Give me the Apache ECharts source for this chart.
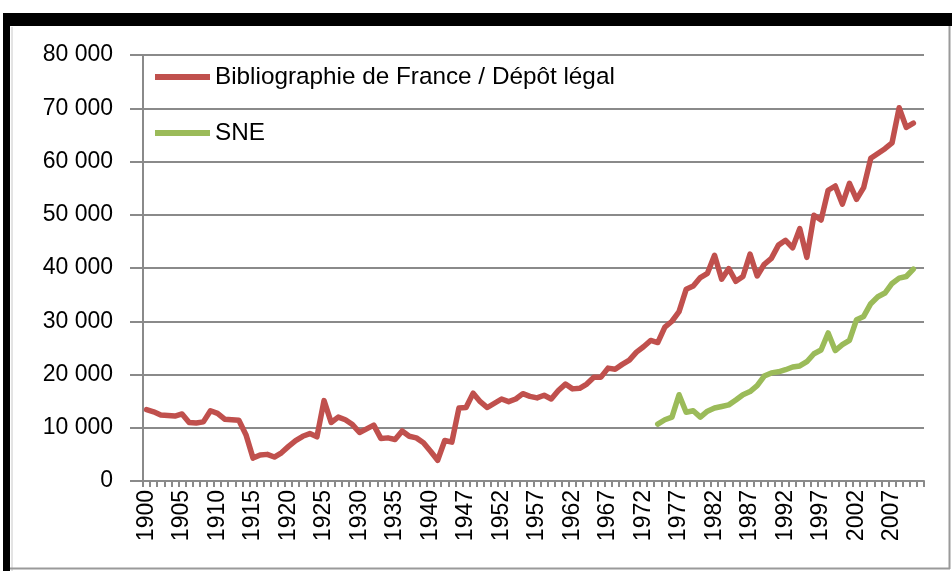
<!DOCTYPE html>
<html>
<head>
<meta charset="utf-8">
<script src="https://cdn.jsdelivr.net/npm/echarts@6/dist/echarts.min.js"></script>
<style>
html,body{margin:0;padding:0;background:#fff;}
#chart{width:952px;height:571px;}
</style>
</head>
<body>
<div id="chart"></div>
<script>
// Categories (years; 1944-1945 absent from the series)
const years = [
 '1900','1901','1902','1903','1904','1905','1906','1907','1908','1909',
 '1910','1911','1912','1913','1914','1915','1916','1917','1918','1919',
 '1920','1921','1922','1923','1924','1925','1926','1927','1928','1929',
 '1930','1931','1932','1933','1934','1935','1936','1937','1938','1939',
 '1940','1941','1942','1943','1946','1947','1948','1949','1950','1951',
 '1952','1953','1954','1955','1956','1957','1958','1959','1960','1961',
 '1962','1963','1964','1965','1966','1967','1968','1969','1970','1971',
 '1972','1973','1974','1975','1976','1977','1978','1979','1980','1981',
 '1982','1983','1984','1985','1986','1987','1988','1989','1990','1991',
 '1992','1993','1994','1995','1996','1997','1998','1999','2000','2001',
 '2002','2003','2004','2005','2006','2007','2008','2009','2010','2011'
];

// Bibliographie de France / Dépôt légal (1900 -> 2010)
const bibliographie = [
 13400,13000,12400,12300,12200,12600,11000,10900,11100,13200,
 12700,11600,11500,11400,8700,4300,4900,5000,4500,5300,
 6500,7600,8400,8900,8300,15100,11000,12000,11500,10600,
 9100,9800,10500,8000,8100,7800,9400,8400,8100,7200,
 5600,3900,7600,7300,13700,13800,16500,14900,13800,14600,
 15400,14900,15400,16400,15900,15600,16100,15400,17000,18200,
 17300,17400,18200,19500,19500,21200,21000,21900,22700,24200,
 25200,26400,26000,28900,30000,31800,36000,36600,38200,39000,
 42400,37900,39900,37500,38400,42600,38500,40700,41800,44300,
 45200,43800,47400,42000,49900,49000,54600,55400,52000,55900,
 52900,55100,60600,61500,62400,63500,70100,66400,67200
];

// SNE (1974 -> 2010)
const sneStart = '1974';
const sne = [
 10700,11500,12000,16200,12900,13200,12000,13100,13700,14000,
 14300,15200,16200,16800,17900,19700,20300,20500,20900,21400,
 21600,22400,23900,24600,27800,24500,25600,26400,30300,30900,
 33300,34600,35300,37100,38100,38400,39800
];

const seriesNames = ['Bibliographie de France / Dépôt légal', 'SNE'];
const yTicks = [0, 10000, 20000, 30000, 40000, 50000, 60000, 70000, 80000];

const sneFull = years.map(() => null);
const startIdx = years.indexOf(sneStart);
sne.forEach((v, i) => { sneFull[startIdx + i] = v; });

const fmt = v => String(v).replace(/\B(?=(\d{3})+(?!\d))/g, ' ');
const gridGray = '#8a8a8a';

const chart = echarts.init(document.getElementById('chart'), null, {renderer: 'canvas'});
chart.setOption({
  animation: false,
  backgroundColor: '#fff',
  graphic: [
    {type: 'rect', shape: {x: 3, y: 13, width: 949, height: 13}, style: {fill: '#000'}, silent: true},
    {type: 'rect', shape: {x: 3, y: 13, width: 7, height: 558}, style: {fill: '#000'}, silent: true},
    {type: 'line', shape: {x1: 12, y1: 27, x2: 12, y2: 571}, style: {stroke: '#c8c8c8', lineWidth: 1}, silent: true},
    {type: 'line', shape: {x1: 949.5, y1: 26, x2: 949.5, y2: 569}, style: {stroke: '#9a9a9a', lineWidth: 2}, silent: true},
    {type: 'line', shape: {x1: 10, y1: 568.5, x2: 950, y2: 568.5}, style: {stroke: '#9a9a9a', lineWidth: 2}, silent: true}
  ],
  grid: {left: 143, top: 55, width: 781, height: 426, containLabel: false},
  legend: {
    orient: 'vertical',
    left: 155,
    top: 64,
    padding: 0,
    itemGap: 30,
    itemWidth: 55,
    itemHeight: 6,
    icon: 'rect',
    data: seriesNames,
    textStyle: {fontSize: 24.3, fontFamily: 'Liberation Sans, Arial, sans-serif', color: '#000', lineHeight: 26}
  },
  xAxis: {
    type: 'category',
    data: years,
    boundaryGap: true,
    axisLine: {show: true, lineStyle: {color: gridGray, width: 2}},
    axisTick: {show: true, interval: 0, length: 6, lineStyle: {color: gridGray, width: 2}},
    axisLabel: {
      interval: 4, rotate: 90, margin: 9,
      fontSize: 23, fontFamily: 'Liberation Sans, Arial, sans-serif', color: '#000'
    },
    splitLine: {show: false}
  },
  yAxis: {
    type: 'value',
    min: yTicks[0],
    max: yTicks[yTicks.length - 1],
    interval: yTicks[1] - yTicks[0],
    axisLine: {show: true, lineStyle: {color: gridGray, width: 2}},
    axisTick: {show: true, length: 13, lineStyle: {color: gridGray, width: 2}},
    axisLabel: {
      margin: 30, formatter: fmt,
      fontSize: 23, fontFamily: 'Liberation Sans, Arial, sans-serif', color: '#000'
    },
    splitLine: {show: true, lineStyle: {color: gridGray, width: 2}}
  },
  series: [
    {
      name: seriesNames[0], type: 'line', data: bibliographie,
      showSymbol: false, symbol: 'none', smooth: false,
      color: '#C0504D',
      lineStyle: {width: 5.5, color: '#C0504D', cap: 'round', join: 'round'}
    },
    {
      name: seriesNames[1], type: 'line', data: sneFull,
      showSymbol: false, symbol: 'none', smooth: false, connectNulls: false,
      color: '#9BBB59',
      lineStyle: {width: 5.5, color: '#9BBB59', cap: 'round', join: 'round'}
    }
  ]
});
</script>
</body>
</html>
